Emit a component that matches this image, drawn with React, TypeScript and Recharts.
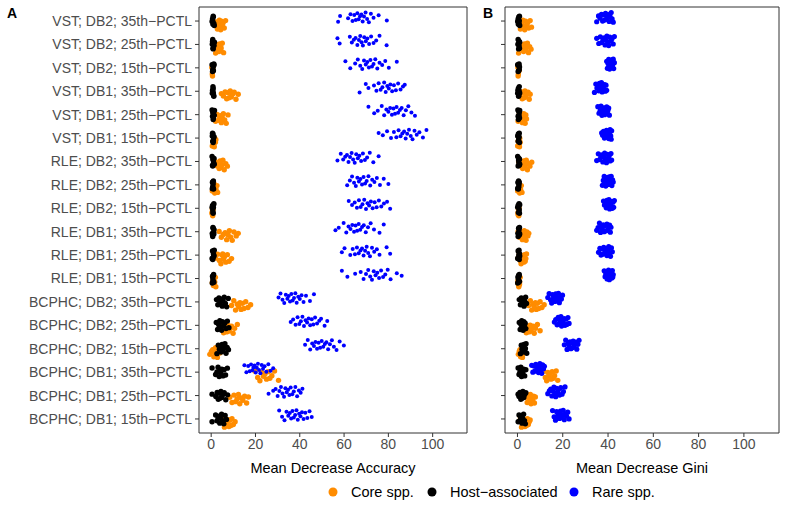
import React from 'react';
import { ScatterChart, Scatter, XAxis, YAxis, ReferenceArea } from 'recharts';

const ROW_LABELS = [
  'VST; DB2; 35th−PCTL',
  'VST; DB2; 25th−PCTL',
  'VST; DB2; 15th−PCTL',
  'VST; DB1; 35th−PCTL',
  'VST; DB1; 25th−PCTL',
  'VST; DB1; 15th−PCTL',
  'RLE; DB2; 35th−PCTL',
  'RLE; DB2; 25th−PCTL',
  'RLE; DB2; 15th−PCTL',
  'RLE; DB1; 35th−PCTL',
  'RLE; DB1; 25th−PCTL',
  'RLE; DB1; 15th−PCTL',
  'BCPHC; DB2; 35th−PCTL',
  'BCPHC; DB2; 25th−PCTL',
  'BCPHC; DB2; 15th−PCTL',
  'BCPHC; DB1; 35th−PCTL',
  'BCPHC; DB1; 25th−PCTL',
  'BCPHC; DB1; 15th−PCTL',
];
const X_TICKS = [0, 20, 40, 60, 80, 100];
const Y_TICKS = ROW_LABELS.map((_, i) => ROW_LABELS.length - i);

const SERIES = [
  { name: 'Core spp.', color: '#FF8C00' },
  { name: 'Host−associated', color: '#000000' },
  { name: 'Rare spp.', color: '#0000FF' },
];

// panel A: mean decrease accuracy (rows top to bottom)
const coreAccuracy = [
  [2.2, 2.8, 3.3, 3.7, 4.0, 4.3, 4.6, 5.0, 5.4, 5.9, 6.5, 3.5],
  [2.0, 2.5, 2.9, 3.2, 3.5, 3.8, 4.1, 4.5, 5.0, 5.6, 3.0, 4.2],
  [0.3, 0.5, 0.7, 0.9, 0.6, 0.8],
  [4.6, 5.5, 6.3, 7.0, 7.6, 8.1, 8.6, 9.1, 9.7, 10.4, 11.2, 12.2],
  [2.0, 2.7, 3.3, 3.8, 4.2, 4.6, 5.0, 5.5, 6.1, 6.8, 7.6, 4.4],
  [0.5, 0.8, 1.0, 1.2, 1.4, 1.6, 1.9, 2.1],
  [1.8, 2.5, 3.1, 3.6, 4.0, 4.4, 4.8, 5.3, 5.9, 6.6, 7.3, 3.8],
  [0.5, 0.9, 1.3, 1.6, 1.9, 2.2, 2.6, 2.9],
  [0.3, 0.5, 0.7, 0.9, 0.6, 0.8],
  [3.6, 4.6, 5.5, 6.3, 7.0, 7.6, 8.2, 8.8, 9.5, 10.3, 11.3, 12.2],
  [2.0, 2.9, 3.7, 4.4, 5.0, 5.5, 6.0, 6.6, 7.3, 8.1, 9.2, 5.2],
  [0.5, 0.8, 1.0, 1.2, 1.4, 1.6, 1.9, 2.1],
  [9.2, 10.2, 11.0, 11.8, 12.4, 13.0, 13.5, 14.1, 14.8, 15.6, 16.6, 17.8],
  [4.7, 5.6, 6.4, 7.0, 7.6, 8.1, 8.6, 9.2, 9.9, 10.6, 11.8, 7.4],
  [-0.6, 0.1, 0.7, 1.2, 1.6, 2.0, 2.4, 2.8, 3.3, 3.9, 4.4, 1.8],
  [19.8, 21.0, 22.0, 22.9, 23.6, 24.3, 25.0, 25.7, 26.5, 27.4, 28.6, 30.4],
  [8.4, 9.4, 10.3, 11.0, 11.7, 12.3, 12.9, 13.6, 14.3, 15.1, 16.0, 16.8],
  [5.2, 6.0, 6.6, 7.1, 7.6, 8.0, 8.4, 8.9, 9.4, 10.0, 10.8, 7.8],
];
const hostAccuracy = [
  [0.4, 0.6, 0.8, 1.0, 1.2, 0.7, 0.9, 1.4],
  [0.5, 0.7, 0.9, 1.1, 1.3, 0.6, 0.8, 1.5],
  [0.4, 0.6, 0.8, 1.0, 1.2, 0.7, 0.9, 1.3],
  [0.5, 0.7, 0.9, 1.1, 0.6, 0.8, 1.0, 1.2],
  [0.4, 0.6, 0.9, 1.2, 1.4, 0.7, 1.0, 1.5],
  [0.5, 0.7, 0.8, 1.0, 1.1, 0.6, 0.9, 1.3],
  [0.4, 0.7, 0.9, 1.1, 1.3, 0.6, 0.8, 1.4],
  [0.5, 0.6, 0.8, 1.0, 0.7, 0.9, 0.6, 1.1],
  [0.4, 0.6, 0.8, 1.0, 1.2, 0.7, 0.9, 1.1],
  [0.5, 0.7, 0.9, 1.1, 1.3, 0.6, 0.8, 1.2],
  [0.4, 0.6, 0.9, 1.1, 1.4, 0.7, 1.0, 1.3],
  [0.5, 0.7, 0.8, 1.0, 1.2, 0.6, 0.9, 1.1],
  [2.4, 3.0, 3.5, 3.9, 4.3, 4.7, 5.0, 5.4, 5.9, 6.4, 7.0, 7.7],
  [2.3, 2.9, 3.4, 3.9, 4.3, 4.7, 5.1, 5.6, 6.1, 6.7, 7.3, 8.0],
  [2.6, 3.2, 3.7, 4.1, 4.5, 4.9, 5.3, 5.7, 6.2, 6.7, 7.2, 7.8],
  [0.4, 2.0, 2.6, 3.1, 3.6, 4.0, 4.4, 4.8, 5.3, 5.8, 6.5, 7.3],
  [0.4, 2.1, 2.7, 3.2, 3.6, 4.0, 4.4, 4.8, 5.3, 5.9, 6.6, 7.4],
  [0.4, 2.0, 2.6, 3.1, 3.5, 3.9, 4.3, 4.7, 5.2, 5.7, 6.3, 6.9],
];
const rareAccuracy = [
  [57.3, 58.2, 61.8, 62.9, 63.8, 64.6, 65.3, 66.0, 66.6, 67.2, 67.8, 68.4, 69.0, 69.7, 70.4, 71.2, 72.1, 73.3, 75.6, 79.3],
  [57.0, 58.0, 62.6, 63.5, 64.4, 65.2, 66.0, 66.7, 67.3, 67.9, 68.5, 69.1, 69.8, 70.5, 71.3, 72.2, 73.3, 74.5, 76.0, 79.2],
  [60.6, 62.8, 65.0, 66.2, 67.3, 68.2, 69.0, 69.8, 70.5, 71.2, 71.9, 72.6, 73.3, 74.1, 75.0, 76.0, 77.2, 78.6, 80.2, 83.8],
  [67.0, 69.8, 71.0, 73.5, 74.6, 75.6, 76.5, 77.3, 78.1, 78.8, 79.5, 80.2, 80.9, 81.7, 82.5, 83.4, 84.4, 85.5, 86.6, 87.4],
  [71.0, 73.6, 75.2, 77.0, 78.1, 79.1, 80.0, 80.8, 81.6, 82.3, 83.0, 83.7, 84.4, 85.2, 86.0, 86.9, 87.9, 89.0, 90.4, 92.0],
  [75.6, 77.5, 79.4, 81.2, 82.5, 83.6, 84.6, 85.5, 86.3, 87.1, 87.8, 88.5, 89.3, 90.1, 90.9, 91.8, 92.8, 94.0, 95.6, 97.2],
  [57.0, 58.5, 59.6, 60.5, 61.3, 62.0, 62.7, 63.4, 64.1, 64.8, 65.5, 66.2, 66.9, 67.7, 68.5, 69.4, 70.4, 71.6, 73.2, 75.6],
  [61.4, 62.6, 63.6, 64.5, 65.3, 66.0, 66.7, 67.4, 68.1, 68.8, 69.5, 70.2, 71.0, 71.8, 72.7, 73.7, 74.8, 76.2, 77.9, 80.0],
  [62.1, 63.6, 64.8, 65.8, 66.7, 67.5, 68.3, 69.1, 69.9, 70.6, 71.3, 72.1, 72.9, 73.8, 74.7, 75.7, 76.8, 78.0, 79.4, 80.8],
  [56.1, 57.6, 59.8, 61.0, 62.0, 62.9, 63.7, 64.5, 65.2, 65.9, 66.6, 67.3, 68.1, 68.9, 69.8, 70.8, 72.0, 73.5, 76.0, 77.9],
  [59.0, 60.2, 62.8, 63.9, 64.9, 65.8, 66.6, 67.4, 68.1, 68.8, 69.5, 70.2, 70.9, 71.7, 72.6, 73.6, 74.8, 76.0, 79.2, 80.8],
  [59.0, 61.5, 65.0, 67.5, 68.8, 69.9, 70.9, 71.8, 72.6, 73.4, 74.2, 75.0, 75.8, 76.7, 77.6, 78.6, 79.7, 81.0, 83.8, 86.0],
  [30.4, 31.3, 32.2, 33.0, 33.7, 34.4, 35.0, 35.6, 36.2, 36.8, 37.4, 38.0, 38.6, 39.3, 40.0, 40.8, 41.7, 42.8, 44.6, 46.4],
  [35.9, 37.0, 38.1, 39.0, 39.8, 40.5, 41.2, 41.9, 42.6, 43.3, 44.0, 44.7, 45.4, 46.1, 46.9, 47.8, 48.8, 49.6, 51.2, 52.4],
  [42.4, 43.6, 44.7, 45.6, 46.4, 47.1, 47.8, 48.5, 49.2, 49.9, 50.6, 51.3, 52.0, 52.8, 53.6, 54.5, 55.4, 56.6, 58.0, 59.9],
  [15.0, 15.9, 16.7, 17.4, 18.0, 18.6, 19.1, 19.6, 20.1, 20.6, 21.1, 21.6, 22.2, 22.8, 23.4, 24.1, 24.9, 25.8, 26.8, 28.0],
  [25.9, 28.0, 29.1, 30.0, 30.8, 31.5, 32.2, 32.9, 33.5, 34.1, 34.7, 35.3, 35.9, 36.6, 37.3, 38.0, 38.8, 39.6, 40.4, 41.2],
  [30.7, 32.0, 33.1, 34.0, 34.8, 35.5, 36.1, 36.7, 37.3, 37.9, 38.5, 39.1, 39.7, 40.3, 41.0, 41.7, 42.5, 43.4, 44.4, 45.4],
];

// panel B: mean decrease gini (rows top to bottom)
const coreGini = [
  [0.6, 1.3, 1.9, 2.4, 2.8, 3.2, 3.6, 4.0, 4.5, 5.0, 5.6, 6.2],
  [0.5, 1.2, 1.8, 2.3, 2.7, 3.1, 3.5, 3.9, 4.4, 4.9, 5.4, 6.0],
  [0.2, 0.4, 0.6, 0.5, 0.3, 0.7],
  [0.5, 1.1, 1.7, 2.1, 2.5, 2.9, 3.3, 3.7, 4.2, 4.7, 5.2, 5.6],
  [0.3, 0.8, 1.2, 1.6, 1.9, 2.2, 2.5, 2.8, 3.1, 3.4, 3.7, 4.0],
  [0.1, 0.3, 0.5, 0.7, 0.9, 1.0, 1.2, 0.6],
  [0.5, 1.2, 1.8, 2.3, 2.7, 3.1, 3.5, 3.9, 4.4, 4.9, 5.5, 6.3],
  [0.1, 0.4, 0.7, 1.0, 1.2, 1.4, 1.7, 2.0],
  [0.2, 0.4, 0.6, 0.5, 0.3, 0.7],
  [0.3, 0.9, 1.4, 1.8, 2.2, 2.6, 3.0, 3.4, 3.8, 4.2, 4.6, 5.0],
  [0.3, 0.8, 1.2, 1.6, 1.9, 2.2, 2.5, 2.8, 3.1, 3.4, 3.7, 4.0],
  [0.1, 0.3, 0.5, 0.7, 0.9, 1.0, 1.2, 0.6],
  [5.0, 5.7, 6.3, 6.9, 7.4, 7.9, 8.3, 8.8, 9.4, 10.0, 10.8, 11.8],
  [3.2, 3.9, 4.5, 5.1, 5.6, 6.0, 6.4, 6.9, 7.4, 8.0, 8.8, 10.0],
  [0.4, 0.8, 1.1, 1.4, 1.6, 1.8, 2.0, 2.2, 2.4, 2.6, 1.3, 1.9],
  [11.6, 12.3, 12.9, 13.4, 13.9, 14.4, 14.8, 15.3, 15.8, 16.4, 17.1, 17.8],
  [3.8, 4.3, 4.7, 5.1, 5.4, 5.7, 6.0, 6.3, 6.7, 7.1, 7.5, 7.9],
  [1.3, 1.8, 2.3, 2.7, 3.0, 3.3, 3.6, 4.0, 4.4, 4.8, 5.2, 5.6],
];
const hostGini = [
  [0.1, 0.3, 0.4, 0.6, 0.7, 0.8, 0.9, 1.0],
  [0.2, 0.3, 0.5, 0.6, 0.7, 0.8, 0.9, 1.0],
  [0.1, 0.3, 0.4, 0.5, 0.7, 0.8, 0.9, 0.6],
  [0.1, 0.2, 0.4, 0.6, 0.7, 0.8, 1.0, 0.5],
  [0.2, 0.3, 0.4, 0.6, 0.7, 0.8, 0.9, 1.0],
  [0.1, 0.3, 0.4, 0.5, 0.6, 0.8, 0.9, 0.7],
  [0.1, 0.3, 0.5, 0.6, 0.7, 0.8, 0.9, 1.0],
  [0.1, 0.2, 0.3, 0.5, 0.6, 0.7, 0.8, 0.4],
  [0.1, 0.3, 0.4, 0.6, 0.7, 0.8, 0.9, 1.0],
  [0.2, 0.3, 0.5, 0.6, 0.7, 0.8, 0.9, 1.0],
  [0.1, 0.3, 0.4, 0.6, 0.7, 0.8, 0.9, 1.0],
  [0.1, 0.2, 0.4, 0.5, 0.6, 0.7, 0.9, 0.8],
  [0.8, 1.3, 1.7, 2.0, 2.3, 2.6, 2.9, 3.2, 3.6, 4.0],
  [0.8, 1.2, 1.6, 1.9, 2.2, 2.5, 2.8, 3.1, 3.4, 3.7],
  [1.3, 1.7, 2.0, 2.3, 2.6, 2.9, 3.2, 3.5, 3.8, 4.1],
  [0.3, 0.7, 1.1, 1.5, 1.8, 2.1, 2.4, 2.8, 3.2, 3.7],
  [0.3, 0.7, 1.1, 1.5, 1.8, 2.1, 2.4, 2.8, 3.2, 3.7],
  [0.3, 0.7, 1.0, 1.4, 1.7, 2.0, 2.3, 2.7, 3.1, 3.5],
];
const rareGini = [
  [35.0, 35.8, 36.5, 37.1, 37.6, 38.1, 38.5, 38.9, 39.3, 39.7, 40.1, 40.5, 40.9, 41.4, 41.8, 42.3],
  [35.0, 35.9, 36.6, 37.2, 37.8, 38.3, 38.7, 39.1, 39.5, 39.9, 40.3, 40.8, 41.3, 41.8, 42.3, 42.8],
  [39.4, 39.7, 40.0, 40.3, 40.5, 40.7, 40.9, 41.1, 41.3, 41.5, 41.7, 41.9, 42.1, 42.3, 42.5, 42.8],
  [34.0, 34.6, 35.1, 35.5, 35.9, 36.2, 36.5, 36.8, 37.1, 37.4, 37.7, 38.0, 38.4, 38.8, 39.1, 39.4],
  [35.5, 36.0, 36.5, 36.9, 37.3, 37.6, 37.9, 38.2, 38.5, 38.8, 39.1, 39.4, 39.7, 40.0, 40.3, 40.6],
  [37.2, 37.6, 38.0, 38.4, 38.7, 39.0, 39.3, 39.5, 39.7, 40.0, 40.3, 40.6, 40.9, 41.2, 41.4, 41.6],
  [35.0, 35.7, 36.3, 36.8, 37.3, 37.7, 38.1, 38.5, 38.9, 39.3, 39.7, 40.1, 40.5, 40.9, 41.3, 41.6],
  [37.5, 37.9, 38.3, 38.7, 39.0, 39.3, 39.6, 39.9, 40.2, 40.5, 40.8, 41.1, 41.4, 41.7, 42.0, 42.3],
  [38.0, 38.4, 38.8, 39.2, 39.5, 39.8, 40.1, 40.4, 40.7, 41.0, 41.3, 41.6, 41.9, 42.2, 42.5, 42.8],
  [35.0, 35.6, 36.2, 36.7, 37.1, 37.5, 37.9, 38.3, 38.7, 39.1, 39.5, 39.9, 40.3, 40.7, 41.0, 41.3],
  [35.8, 36.4, 36.9, 37.3, 37.7, 38.1, 38.5, 38.8, 39.1, 39.5, 39.9, 40.3, 40.7, 41.1, 41.5, 41.9],
  [38.3, 38.7, 39.0, 39.3, 39.6, 39.9, 40.2, 40.4, 40.6, 40.9, 41.2, 41.5, 41.7, 41.9, 42.1, 42.3],
  [13.4, 14.0, 14.6, 15.1, 15.5, 15.9, 16.3, 16.6, 16.9, 17.3, 17.7, 18.1, 18.5, 18.9, 19.4, 19.9],
  [16.3, 16.9, 17.5, 18.0, 18.4, 18.8, 19.2, 19.5, 19.8, 20.2, 20.6, 21.0, 21.4, 21.8, 22.3, 22.8],
  [20.7, 21.3, 21.9, 22.4, 22.8, 23.2, 23.6, 23.9, 24.2, 24.6, 25.0, 25.4, 25.8, 26.2, 26.7, 27.2],
  [6.3, 6.8, 7.3, 7.7, 8.1, 8.4, 8.7, 9.0, 9.3, 9.6, 9.9, 10.3, 10.7, 11.1, 11.5, 11.9],
  [13.4, 14.1, 14.7, 15.2, 15.7, 16.1, 16.5, 16.9, 17.3, 17.7, 18.1, 18.6, 19.1, 19.7, 20.3, 21.0],
  [15.5, 16.2, 16.8, 17.3, 17.8, 18.2, 18.6, 19.0, 19.4, 19.8, 20.2, 20.7, 21.2, 21.7, 22.2, 22.8],
];

// fixed vertical jitter pattern (category units) and dodge per group
const JITTER = [0.12, -0.18, 0.03, 0.2, -0.07, -0.21, 0.15, -0.02, 0.09, -0.14, 0.18, -0.1,
  0.01, 0.21, -0.19, 0.06, -0.04, 0.13, -0.16, 0.1, -0.12, 0.17, -0.08, 0.04];
const DODGE = [-0.16, 0, 0.16];

const X_DOMAIN = [-5.5, 115.5];
const Y_DOMAIN = [0.4, 18.6];
const FONT = '"Liberation Sans", Arial, Helvetica, sans-serif';

function toPoints(rows: number[][], dodge: number, shift: number) {
  const n = ROW_LABELS.length;
  return rows.flatMap((vals, r) =>
    vals.map((x, i) => ({ x, y: n - r + dodge + JITTER[(i + r * 5 + shift) % JITTER.length] }))
  );
}

const dot = (fill: string, r: number) => (props: any) =>
  <circle cx={props.cx} cy={props.cy} r={r} fill={fill} />;

function Panel({ title, groups, width, yWidth, right, labels, sizes }: any) {
  return (
    <ScatterChart width={width} height={508} margin={{ top: 7, right, bottom: 35, left: 0 }}>
      <XAxis
        type="number"
        dataKey="x"
        domain={X_DOMAIN}
        ticks={X_TICKS}
        interval={0}
        allowDataOverflow
        axisLine={false}
        stroke="#333333"
        tickSize={4}
        tick={{ fill: '#4D4D4D', fontSize: 14 }}
        height={40}
        label={{ value: title, position: 'insideBottom', offset: 0, fill: '#000', fontSize: 14.5 }}
      />
      <YAxis
        type="number"
        dataKey="y"
        domain={Y_DOMAIN}
        ticks={Y_TICKS}
        interval={0}
        allowDataOverflow
        axisLine={false}
        stroke="#333333"
        width={yWidth}
        tickSize={4}
        tickMargin={3}
        tick={{ fill: '#4D4D4D', fontSize: 14 }}
        tickFormatter={(v: number) => (labels ? ROW_LABELS[ROW_LABELS.length - v] : '')}
      />
      <ReferenceArea x1={X_DOMAIN[0]} x2={X_DOMAIN[1]} y1={Y_DOMAIN[0]} y2={Y_DOMAIN[1]}
        fill="none" stroke="#333333" strokeWidth={1} fillOpacity={0} />
      {groups.map((rows: number[][], g: number) => (
        <Scatter
          key={g}
          name={SERIES[g].name}
          data={toPoints(rows, DODGE[g], g * 7)}
          shape={dot(SERIES[g].color, sizes[g])}
          isAnimationActive={false}
        />
      ))}
    </ScatterChart>
  );
}

export default function App() {
  const legendDots = [333, 432, 574];
  return (
    <div style={{ position: 'absolute', left: 0, top: 0, width: 787, height: 508, background: '#fff', fontFamily: FONT }}>
      <div style={{ position: 'absolute', left: 0, top: 0 }}>
        <Panel title="Mean Decrease Accuracy" groups={[coreAccuracy, hostAccuracy, rareAccuracy]}
          width={470} yWidth={199} right={3} labels sizes={[2.7, 2.7, 2.0]} />
      </div>
      <div style={{ position: 'absolute', left: 470, top: 0 }}>
        <Panel title="Mean Decrease Gini" groups={[coreGini, hostGini, rareGini]}
          width={317} yWidth={35} right={8} labels={false} sizes={[2.7, 2.7, 2.6]} />
      </div>
      <svg width={787} height={508} style={{ position: 'absolute', left: 0, top: 0, pointerEvents: 'none' }}>
        <text x={7} y={18} fontSize={14} fontWeight="bold" fill="#000">A</text>
        <text x={483} y={18} fontSize={14} fontWeight="bold" fill="#000">B</text>
        {SERIES.map((s, i) => (
          <g key={s.name}>
            <circle cx={legendDots[i]} cy={492} r={4.5} fill={s.color} />
            <text x={legendDots[i] + 18} y={492} dy="0.35em" fontSize={14.5} fill="#000">{s.name}</text>
          </g>
        ))}
      </svg>
    </div>
  );
}
